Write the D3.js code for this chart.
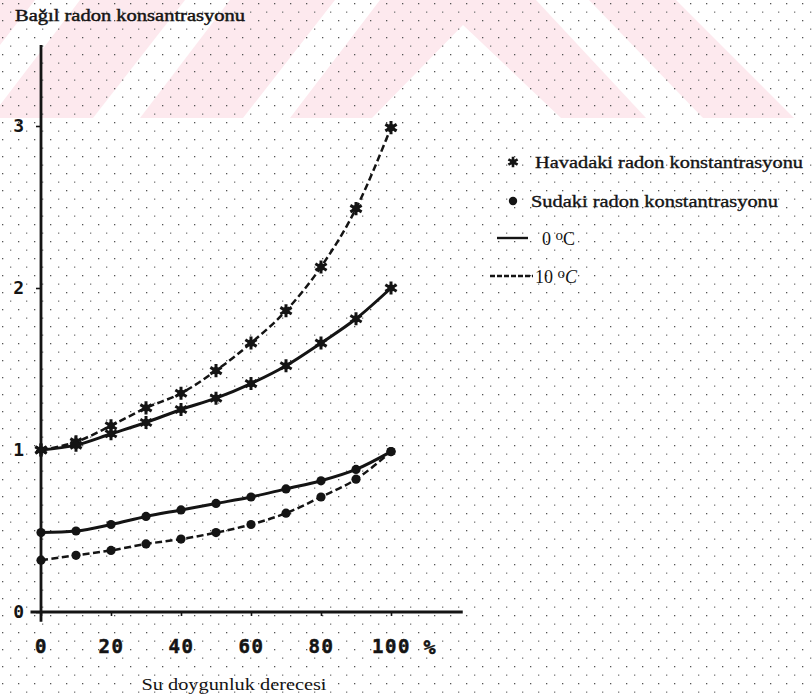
<!DOCTYPE html>
<html>
<head>
<meta charset="utf-8">
<script src="https://cdn.jsdelivr.net/npm/d3@7"></script>
<style>
  html, body { margin: 0; padding: 0; background: #fff; }
  svg { display: block; }
</style>
</head>
<body>
<svg id="chart" width="812" height="698"></svg>
<script>
// ---- data ----
const saturation = [0, 10, 20, 30, 40, 50, 60, 70, 80, 90, 100];
const airRadon0C  = [1.00, 1.03, 1.10, 1.17, 1.25, 1.32, 1.41, 1.52, 1.66, 1.81, 2.00];
const airRadon10C = [1.00, 1.05, 1.15, 1.26, 1.35, 1.49, 1.66, 1.86, 2.13, 2.49, 2.99];
const waterRadon0C  = [0.49, 0.50, 0.54, 0.59, 0.63, 0.67, 0.71, 0.76, 0.81, 0.88, 0.99];
const waterRadon10C = [0.32, 0.35, 0.38, 0.42, 0.45, 0.49, 0.54, 0.61, 0.71, 0.82, 0.99];
const yTickValues = [0, 1, 2, 3];
const xTickValues = [0, 20, 40, 60, 80, 100];
const titleText = "Bağıl radon konsantrasyonu";
const xTitleText = "Su doygunluk derecesi";
const xUnitText = "%";
const legendMarkerLabels = ["Havadaki radon konstantrasyonu", "Sudaki radon konstantrasyonu"];
const legendLineLabels = ["0", "10"];

// ---- setup ----
const svg = d3.select("#chart");
const INK = "#141414";
const SERIF = "'Liberation Serif', 'DejaVu Serif', serif";
const MONO = "'DejaVu Sans Mono', 'Liberation Mono', monospace";

// watermark band (decorative)
const wm = svg.append("g");
wm.append("rect").attr("x", 0).attr("y", 0).attr("width", 812).attr("height", 118).attr("fill", "#fde9ee");
const whitePolys = [
  [[-57,118],[-10,118],[80,0],[35,0]],
  [[93,118],[140,118],[230,0],[185,0]],
  [[243,118],[290,118],[380,0],[335,0]],
  [[372,118],[561,118],[463,25]],
  [[536,0],[589,0],[703,118],[646,118]],
  [[676,0],[812,0],[812,118],[794,118]]
];
wm.selectAll("polygon").data(whitePolys).join("polygon")
  .attr("points", d => d.map(p => p.join(",")).join(" "))
  .attr("fill", "#ffffff");

// dotted paper texture
const defs = svg.append("defs");
const pat = defs.append("pattern").attr("id", "dots").attr("patternUnits", "userSpaceOnUse")
  .attr("width", 16).attr("height", 17);
pat.append("rect").attr("x", 2).attr("y", 3).attr("width", 1.3).attr("height", 1.3).attr("fill", "#555");
pat.append("rect").attr("x", 10).attr("y", 11.5).attr("width", 1.3).attr("height", 1.3).attr("fill", "#777");
svg.append("rect").attr("width", 812).attr("height", 698).attr("fill", "url(#dots)");

// ---- scales ----
const x = d3.scaleLinear().domain([0, 100]).range([41, 391]);
const y = d3.scaleLinear().domain([0, 3]).range([612, 126]);

// ---- axes ----
const g = svg.append("g");
g.append("line").attr("x1", x(0)).attr("x2", x(0)).attr("y1", y(3.5)).attr("y2", y(-0.06))
  .attr("stroke", INK).attr("stroke-width", 2.8);
g.append("line").attr("x1", x(-3)).attr("x2", x(120.5)).attr("y1", y(0)).attr("y2", y(0))
  .attr("stroke", INK).attr("stroke-width", 2.8);

const yAxis = g.append("g").attr("transform", `translate(${x(0)},0)`)
  .call(d3.axisLeft(y).tickValues(yTickValues).tickFormat(d3.format("d")).tickSize(5).tickPadding(12));
yAxis.select(".domain").remove();
yAxis.selectAll("line").attr("stroke", INK).attr("stroke-width", 1.6);
yAxis.selectAll("text").attr("font-family", MONO).attr("font-weight", "bold")
  .attr("font-size", 18).attr("fill", INK);

const xAxis = g.append("g").attr("transform", `translate(0,${y(0)})`)
  .call(d3.axisBottom(x).tickValues(xTickValues).tickFormat(d3.format("d")).tickSize(4).tickPadding(24));
xAxis.select(".domain").remove();
xAxis.selectAll("line").attr("stroke", INK).attr("stroke-width", 1.6);
xAxis.selectAll("text").attr("font-family", MONO).attr("font-weight", "bold")
  .attr("font-size", 19).attr("letter-spacing", 1.5).attr("fill", INK)
  .attr("stroke", INK).attr("stroke-width", 0.5);
xAxis.append("text").attr("x", x(111)).attr("y", 28).attr("dy", "0.71em")
  .attr("text-anchor", "middle").attr("font-family", MONO).attr("font-weight", "bold")
  .attr("font-size", 20).attr("fill", INK).attr("stroke", INK).attr("stroke-width", 0.5).text(xUnitText);

// titles
svg.append("text").attr("x", 15).attr("y", 21).attr("font-family", SERIF).attr("font-size", 17)
  .attr("textLength", 230).attr("lengthAdjust", "spacingAndGlyphs")
  .attr("fill", INK).attr("stroke", INK).attr("stroke-width", 0.45).text(titleText);
svg.append("text").attr("x", 234).attr("y", 690).attr("text-anchor", "middle")
  .attr("font-family", SERIF).attr("font-size", 16)
  .attr("textLength", 185).attr("lengthAdjust", "spacingAndGlyphs")
  .attr("fill", INK).text(xTitleText);

// ---- series ----
const series = [
  { values: airRadon10C, dashed: true,  marker: "star" },
  { values: airRadon0C,  dashed: false, marker: "star" },
  { values: waterRadon10C, dashed: true,  marker: "dot" },
  { values: waterRadon0C,  dashed: false, marker: "dot" }
];
const line = d3.line().x(d => x(d[0])).y(d => y(d[1])).curve(d3.curveMonotoneX);
const starPath = d3.symbol(d3.symbolAsterisk, 120)();

function drawMarker(sel, type) {
  if (type === "star") {
    sel.append("path").attr("d", starPath).attr("fill", "none").attr("stroke", INK).attr("stroke-width", 3);
    sel.append("circle").attr("r", 3.6).attr("fill", INK);
  } else {
    sel.append("circle").attr("r", 4.6).attr("fill", INK);
  }
}

series.forEach(s => {
  const pts = saturation.map((v, i) => [v, s.values[i]]);
  g.append("path").datum(pts).attr("d", line).attr("fill", "none")
    .attr("stroke", INK).attr("stroke-width", s.dashed ? 2.5 : 3)
    .attr("stroke-dasharray", s.dashed ? "7,3.5" : null);
  const m = g.append("g").selectAll("g").data(pts).join("g")
    .attr("transform", d => `translate(${x(d[0])},${y(d[1])})`);
  m.each(function() { drawMarker(d3.select(this), s.marker); });
});

// ---- legend ----
const lg = svg.append("g");
legendMarkerLabels.forEach((lab, i) => {
  const yy = [162, 201][i];
  const mg = lg.append("g").attr("transform", `translate(513,${yy})`);
  if (i === 0) {
    mg.append("path").attr("d", d3.symbol(d3.symbolAsterisk, 80)()).attr("fill", "none")
      .attr("stroke", INK).attr("stroke-width", 2.6);
    mg.append("circle").attr("r", 2.8).attr("fill", INK);
  } else {
    mg.append("circle").attr("r", 4.2).attr("fill", INK);
  }
  lg.append("text").attr("x", i === 0 ? 535 : 531).attr("y", yy + 6)
    .attr("font-family", SERIF).attr("font-size", 17)
    .attr("textLength", i === 0 ? 268 : 247).attr("lengthAdjust", "spacingAndGlyphs")
    .attr("fill", INK).attr("stroke", INK).attr("stroke-width", 0.35).text(lab);
});
legendLineLabels.forEach((lab, i) => {
  const yy = [238, 276][i];
  const x1 = [497, 490][i], x2 = [528, 533][i];
  lg.append("line").attr("x1", x1).attr("x2", x2).attr("y1", yy).attr("y2", yy)
    .attr("stroke", INK).attr("stroke-width", 2.4)
    .attr("stroke-dasharray", i === 1 ? "5,2" : null);
  const t = lg.append("text").attr("x", [542, 535][i]).attr("y", yy + 7)
    .attr("font-family", SERIF).attr("font-size", 18).attr("fill", INK);
  t.append("tspan").text(lab + " ");
  t.append("tspan").attr("font-size", 15).attr("dy", -5).text("o");
  t.append("tspan").attr("dy", 5).attr("font-style", i === 1 ? "italic" : "normal").text("C");
});
</script>
</body>
</html>
